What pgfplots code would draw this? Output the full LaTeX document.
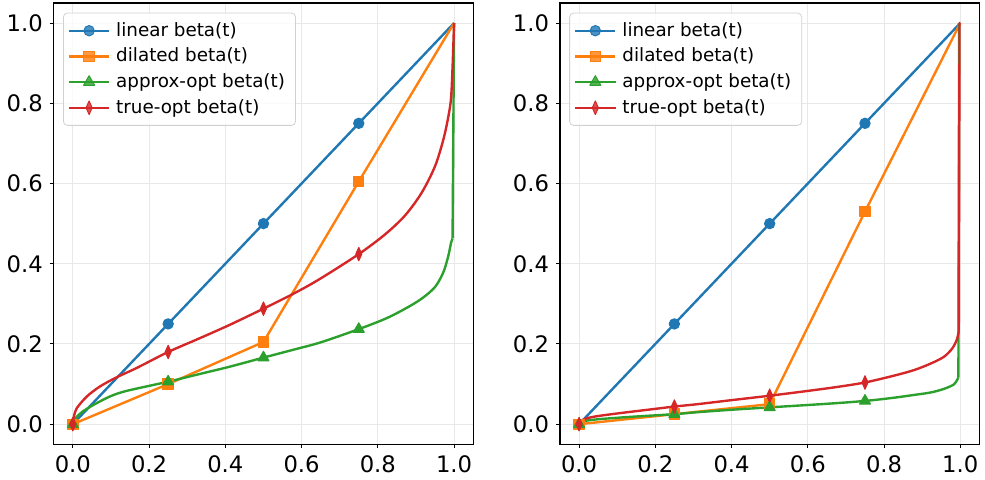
\documentclass[border=0pt]{standalone}
\usepackage{fontspec}
\setmainfont{DejaVu Sans}
\usepackage{pgfplots}
\pgfplotsset{compat=1.18}

\definecolor{tabblue}{HTML}{1F77B4}
\definecolor{taborange}{HTML}{FF7F0E}
\definecolor{tabgreen}{HTML}{2CA02C}
\definecolor{tabred}{HTML}{D62728}

\pgfplotsset{
  betaax/.style={
    scale only axis,
    width=210.5pt, height=221.5pt,
    anchor=south west,
    xmin=-0.05, xmax=1.05, ymin=-0.05, ymax=1.05,
    xtick={0,0.2,...,1.0}, ytick={0,0.2,...,1.0},
    tick align=outside, major tick length=2pt,
    tick style={black, line width=0.5pt},
    xtick pos=bottom, ytick pos=left,
    grid=major,
    major grid style={black!9, line width=0.5pt},
    axis line style={black, line width=0.55pt},
    ticklabel style={font=\fontsize{11.4pt}{13pt}\selectfont},
    /pgf/number format/assume math mode=true,
    /pgf/number format/fixed, /pgf/number format/fixed zerofill,
    /pgf/number format/precision=1,
    legend cell align=left,
    legend style={at={(0.022,0.978)}, anchor=north west,
      font=\fontsize{9.2pt}{11pt}\selectfont,
      draw=black!18, rounded corners=2pt, fill=white, fill opacity=0.8, text opacity=1,
      inner xsep=2.3pt, inner ysep=3.6pt, row sep=2.4pt,
      nodes={inner xsep=3pt, inner ysep=1pt}},
    legend image code/.code={\draw[mark indices={2}] plot coordinates {(0pt,0pt)(10pt,0pt)(20pt,0pt)};},
    every axis plot/.append style={line width=1.2pt, line join=round},
  },
  linsty/.style={tabblue, mark=*, mark size=2.6pt, mark options={solid, fill=tabblue, line width=0.5pt}},
  dilsty/.style={taborange, mark=square*, mark size=2.6pt, mark options={solid, fill=taborange, line width=0.5pt}},
  apxsty/.style={tabgreen, mark=triangle*, mark size=3.2pt, mark options={solid, fill=tabgreen, line width=0.5pt}},
  optsty/.style={tabred, mark=diamond*, mark size=3.4pt, mark options={solid, fill=tabred, xscale=0.6, line width=0.5pt}},
}

\begin{document}
\begin{tikzpicture}
\path (0,0) rectangle (492.5pt,240.5pt);

% left panel
\begin{axis}[betaax, at={(26.8pt,17.5pt)}]
\addplot[linsty, mark indices={1,2,3,4}] coordinates {
  (0,0)(0.25,0.25)(0.5,0.5)(0.75,0.75)(1,1)};
\addlegendentry{linear beta(t)}
\addplot[dilsty, mark indices={1,2,3,4}] coordinates {
  (0,0)(0.25,0.1)(0.5,0.205)(0.75,0.605)(1,1)};
\addlegendentry{dilated beta(t)}
\addplot[apxsty, smooth, mark indices={1,8,11,14}] coordinates {
  (0,0)(0.002,0.008)(0.01,0.018)(0.025,0.031)(0.054,0.048)(0.097,0.069)(0.141,0.083)
  (0.25,0.106)(0.332,0.125)(0.41,0.143)(0.5,0.166)(0.58,0.186)(0.65,0.204)
  (0.75,0.237)(0.82,0.263)(0.872,0.288)(0.915,0.313)(0.95,0.342)(0.972,0.379)
  (0.985,0.42)(0.992,0.452)(0.996,0.463)};
\addlegendentry{approx-opt beta(t)}
\addplot[tabgreen, forget plot] coordinates {(0.996,0.463)(1,1)};
\addplot[optsty, smooth, mark indices={1,8,11,14}] coordinates {
  (0,0)(0.003,0.02)(0.0104,0.040)(0.0366,0.069)(0.071,0.094)(0.115,0.117)(0.167,0.140)
  (0.25,0.18)(0.332,0.214)(0.41,0.247)(0.5,0.288)(0.58,0.326)(0.646,0.361)
  (0.75,0.424)(0.82,0.474)(0.872,0.521)(0.915,0.577)(0.95,0.643)(0.972,0.71)
  (0.985,0.767)(0.992,0.812)(0.996,0.89)(1,1)};
\addlegendentry{true-opt beta(t)}
\end{axis}

% right panel
\begin{axis}[betaax, at={(280.9pt,17.5pt)}]
\addplot[linsty, mark indices={1,2,3,4}] coordinates {
  (0,0)(0.25,0.25)(0.5,0.5)(0.75,0.75)(1,1)};
\addlegendentry{linear beta(t)}
\addplot[dilsty, mark indices={1,2,3,4}] coordinates {
  (0,0)(0.25,0.025)(0.5,0.05)(0.75,0.53)(1,1)};
\addlegendentry{dilated beta(t)}
\addplot[apxsty, smooth, mark indices={1,6,9,11}] coordinates {
  (0,0)(0.003,0.004)(0.02,0.009)(0.058,0.013)(0.146,0.019)
  (0.25,0.025)(0.3115,0.030)(0.4,0.036)(0.5,0.042)(0.652,0.051)
  (0.75,0.058)(0.826,0.066)(0.879,0.073)(0.922,0.079)(0.957,0.088)
  (0.983,0.099)(0.992,0.111)(0.995,0.117)};
\addlegendentry{approx-opt beta(t)}
\addplot[tabgreen, forget plot] coordinates {(0.995,0.117)(0.997,1)};
\addplot[optsty, smooth, mark indices={1,7,10,13}] coordinates {
  (0,0)(0.003,0.007)(0.015,0.013)(0.041,0.019)(0.102,0.027)(0.189,0.037)
  (0.25,0.044)(0.3115,0.050)(0.4,0.06)(0.5,0.071)(0.6,0.083)(0.678,0.093)
  (0.75,0.104)(0.826,0.121)(0.879,0.135)(0.922,0.151)(0.957,0.168)
  (0.979,0.189)(0.991,0.211)(0.996,0.232)};
\addlegendentry{true-opt beta(t)}
\addplot[tabred, forget plot] coordinates {(0.996,0.232)(0.998,1)(1,1)};
\end{axis}
\end{tikzpicture}
\end{document}
